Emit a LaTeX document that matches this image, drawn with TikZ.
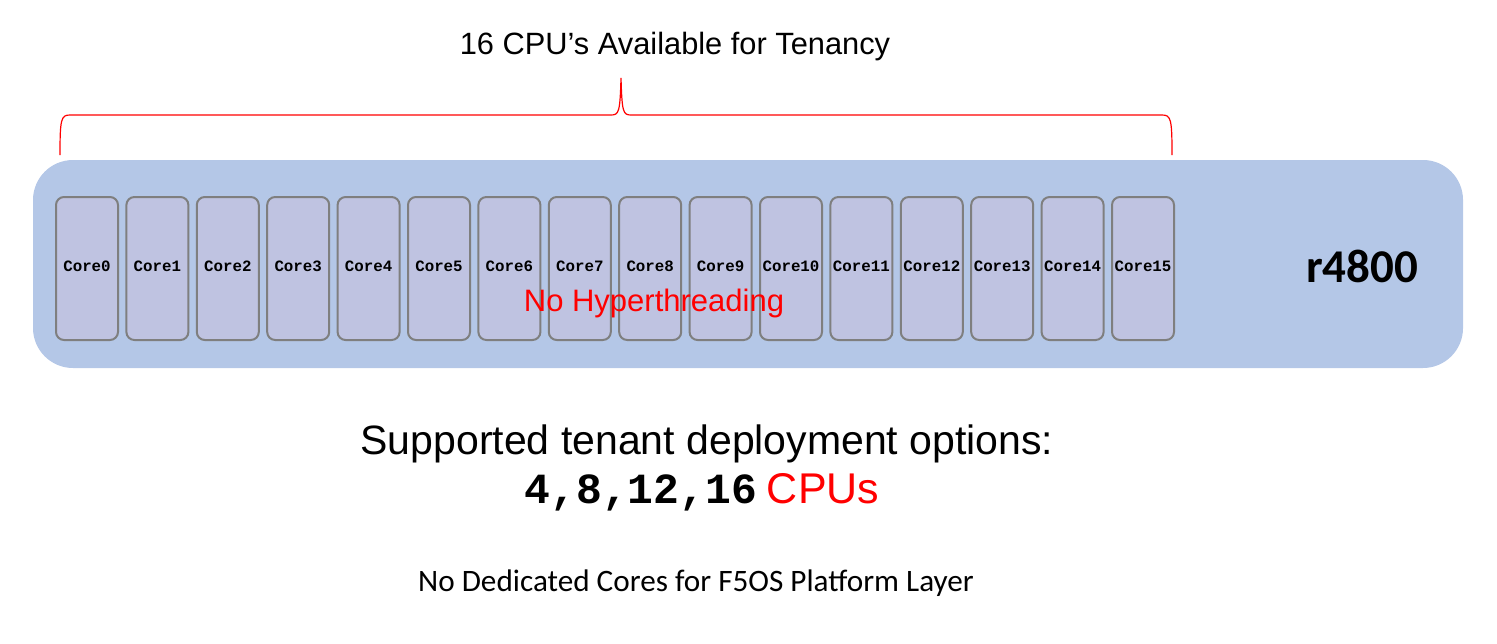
\documentclass[tikz,border=0pt]{standalone}
\usepackage{fontspec}
\setmainfont{Liberation Sans}
\newfontfamily\calibri{Carlito}
\newfontfamily\courier{Liberation Mono}
\definecolor{chassisblue}{HTML}{B4C7E7}
\definecolor{corefill}{HTML}{BFC3E1}
\definecolor{coreline}{HTML}{7F7F7F}

\begin{document}
\begin{tikzpicture}[x=0.5pt,y=-0.5pt,
  chassis/.style={fill=chassisblue, rounded corners=20pt, minimum width=715pt, minimum height=104pt, inner sep=0pt},
  corebox/.style={draw=coreline, line width=1pt, fill=corefill, rounded corners=4pt, minimum width=31pt, minimum height=71.5pt, inner sep=0pt, font=\courier\bfseries\fontsize{7.9}{8}\selectfont},
  brace/.style={red, line width=0.6pt}]
  \useasboundingbox (0,0) rectangle (1497,643);

  % Title over the brace
  \node (title) at (675,47) {\fontsize{15.4}{18}\selectfont 16 CPU’s Available for Tenancy};

  % Chassis
  \node[chassis] (chassis) at (748,264) {};

  % Cores
  \foreach \i in {0,...,15} {
    \node[corebox] (core\i) at (87+70.4*\i,268.5) {\raisebox{2.5pt}{Core\i}};
  }

  % Brace over all cores
  \coordinate (bl) at (60,155);
  \coordinate (br) at (1172,155);
  \coordinate (tip) at (621,78);
  \draw[brace] (bl) .. controls (60,119) and (61,115) .. (70,115) -- (611,115)
    .. controls (619,115) and (620,112) .. (tip)
    .. controls (622,112) and (623,115) .. (631,115) -- (1162,115)
    .. controls (1171,115) and (1172,119) .. (br);

  % Labels
  \node[font=\calibri\bfseries\fontsize{23.5}{26}\selectfont] (model) at (1362,266) {r4800};
  \node[red, font=\fontsize{15.5}{18}\selectfont] (noht) at (654,303) {No Hyperthreading};
  \node[font=\fontsize{20.5}{24}\selectfont] (options) at (707,444) {Supported tenant deployment options:};
  \node (sizes) at (702,492) {\courier\bfseries\fontsize{21.5}{24}\selectfont 4,8,12,16\hspace{5pt}\fontspec{Liberation Sans}\mdseries\color{red}CPUs};
  \node[font=\calibri\fontsize{15.6}{18}\selectfont] (nocores) at (696,583) {No Dedicated Cores for F5OS Platform Layer};
\end{tikzpicture}
\end{document}
